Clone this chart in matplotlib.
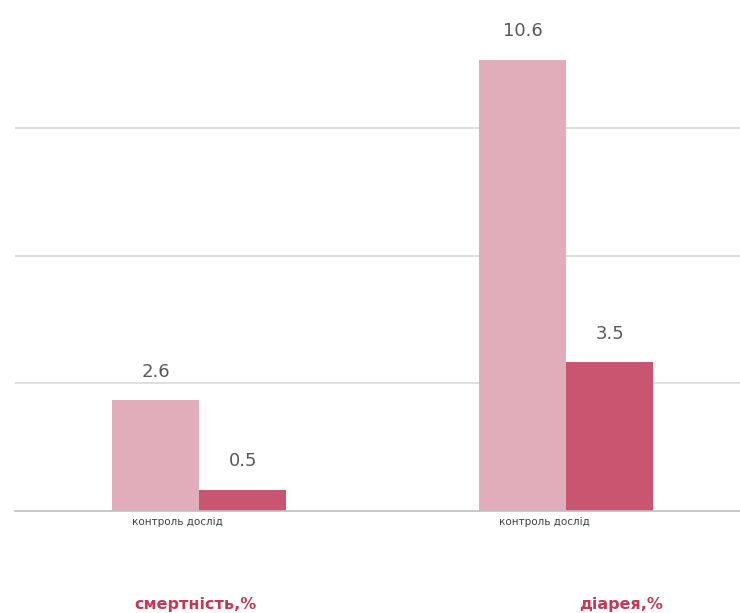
import numpy as np
import matplotlib.pyplot as plt

groups = ["смертність,%", "діарея,%"]
tick_labels = ["контроль дослід", "контроль дослід"]
control = [2.6, 10.6]
trial = [0.5, 3.5]

light = "#e2adbb"
dark = "#c95571"

fig = plt.figure(figsize=(7.4, 6.13), dpi=100)
ax = fig.add_axes([0.02, 0.166, 0.98, 0.834])

x = np.arange(len(groups))
w = 0.237
b1 = ax.bar(x - w / 2, control, w, color=light, zorder=2)
b2 = ax.bar(x + w / 2, trial, w, color=dark, zorder=2)

for bars in (b1, b2):
    for rect in bars:
        h = rect.get_height()
        ax.annotate(f"{h:g}", (rect.get_x() + rect.get_width() / 2, h),
                    xytext=(0, 14), textcoords="offset points",
                    ha="center", va="bottom", fontsize=13, color="#595959")

ax.set_xlim(-0.502, 1.473)
ax.set_ylim(0, 12)
ax.set_yticks([3, 6, 9])
ax.yaxis.grid(True, color="#d9d9d9", linewidth=1.2, zorder=0)
ax.tick_params(axis="y", left=False, labelleft=False)
ax.tick_params(axis="x", length=0, pad=4)
ax.set_xticks(x - 0.06)
ax.set_xticklabels(tick_labels, fontsize=7.5, color="#404040", fontstretch="expanded")
for side in ("top", "right", "left"):
    ax.spines[side].set_visible(False)
ax.spines["bottom"].set_color("#bfbfbf")
ax.spines["bottom"].set_linewidth(1.2)

# category names under each pair of bars
for xi, name in zip([-0.01, 1.15], groups):
    ax.annotate(name, (xi, 0), xytext=(0, -67), textcoords="offset points",
                ha="center", va="center", fontsize=11.5, fontweight="bold",
                color="#c23a55")

fig.savefig("out.png", dpi=100)
